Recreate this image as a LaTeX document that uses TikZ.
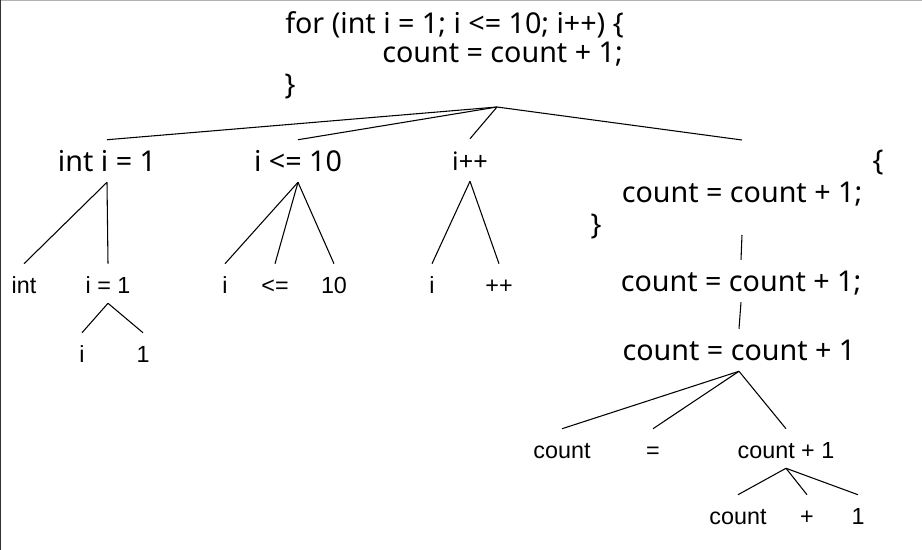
\documentclass[tikz,border=0pt]{standalone}
\usepackage{fontspec}
\setmainfont{Liberation Sans}
\newfontfamily\bigfont{Noto Sans}
\begin{document}
\begin{tikzpicture}[x=0.75pt,y=-0.75pt,
  bigtxt/.style={font=\bigfont\fontsize{21.5}{25}\selectfont},
  big/.style={bigtxt, inner sep=0pt, anchor=base, text height=23.25pt, text depth=8.25pt},
  small/.style={font=\fontsize{17.5}{21}\selectfont, inner sep=0pt, anchor=base, text height=21.75pt, text depth=7.5pt},
  code/.style={bigtxt, inner sep=0pt, anchor=base west},
  brace/.style={bigtxt, inner sep=0pt, anchor=center},
  edge/.style={line width=0.8pt, black}]
\useasboundingbox (0,0) rectangle (922,550);
\draw[black!30, line width=1.5pt] (0,0) -- (922,0);
\draw[black!80, line width=0.75pt] (0.5,0) -- (0.5,550);

% source code at the top
\node[code] (for1) at (285,33) {for (int i = 1; i <= 10; i++) \{};
\node[code] (for2) at (382,62) {count = count + 1;};
\node[brace] (for3) at (290,87) {\}};
\coordinate (root) at (497,107);

% first level
\node[big] (decl) at (107,171) {int i = 1};
\node[big] (cond) at (298,171) {i <= 10};
\node[big, font=\bigfont\fontsize{19}{22}\selectfont] (inc) at (470,170) {i++};
\coordinate (blktop) at (742,140);
\node[brace] (blkopen) at (878,163) {\{};
\node[big] (body1) at (742,202) {count = count + 1;};
\node[brace] (blkclose) at (596,227) {\}};
\coordinate (blkbot) at (742,235);

\draw[edge] (root) -- (decl.north);
\draw[edge] (root) -- (cond.north);
\draw[edge] (root) -- (inc.north);
\draw[edge] (root) -- (blktop);

% int i = 1
\node[small] (int) at (24,293) {int};
\node[small] (asg) at (108,293) {i = 1};
\node[small] (asgi) at (82,362) {i};
\node[small] (asg1) at (143,362) {1};
\draw[edge] (decl.south) -- (int.north);
\draw[edge] (decl.south) -- (asg.north);
\draw[edge] (asg.south) -- (asgi.north);
\draw[edge] (asg.south) -- (asg1.north);

% i <= 10
\node[small] (ci) at (225,293) {i};
\node[small] (cle) at (275,293) {<=};
\node[small] (c10) at (334,293) {10};
\draw[edge] (cond.south) -- (ci.north);
\draw[edge] (cond.south) -- (cle.north);
\draw[edge] (cond.south) -- (c10.north);

% i++
\node[small] (ii) at (432,293) {i};
\node[small] (ipp) at (499,293) {++};
\draw[edge] (inc.south) -- (ii.north);
\draw[edge] (inc.south) -- (ipp.north);

% body
\node[big] (body2) at (741,291) {count = count + 1;};
\node[big] (body3) at (739,360) {count = count + 1};
\draw[edge] (blkbot) -- (body2.north);
\draw[edge] (body2.south) -- (body3.north);

\node[small] (lhs) at (562,458) {count};
\node[small] (eq) at (653,458) {=};
\node[small] (rhs) at (786,458) {count + 1};
\draw[edge] (body3.south) -- (lhs.north);
\draw[edge] (body3.south) -- (eq.north);
\draw[edge] (body3.south) -- (rhs.north);

\node[small] (rc) at (738,524) {count};
\node[small] (rp) at (807,524) {+};
\node[small] (r1) at (858,524) {1};
\draw[edge] (rhs.south) -- (rc.north);
\draw[edge] (rhs.south) -- (rp.north);
\draw[edge] (rhs.south) -- (r1.north);
\end{tikzpicture}
\end{document}
